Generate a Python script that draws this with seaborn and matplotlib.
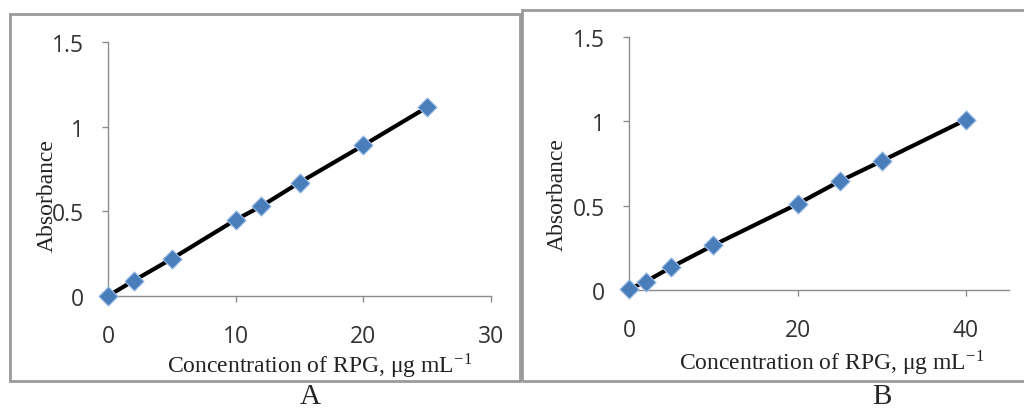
import numpy as np
import pandas as pd
import seaborn as sns
import matplotlib.pyplot as plt
from matplotlib.patches import Rectangle

# calibration data
conc_a = [0, 2, 5, 10, 12, 15, 20, 25]
abs_a = [0.0, 0.09, 0.22, 0.45, 0.53, 0.67, 0.89, 1.115]

conc_b = [0, 2, 5, 10, 20, 25, 30, 40]
abs_b = [0.005, 0.05, 0.135, 0.265, 0.51, 0.645, 0.765, 1.01]

yticks = [0, 0.5, 1, 1.5]
yticklabels = ['0', '0.5', '1', '1.5']
xticks_a = [0, 10, 20, 30]
xticks_b = [0, 20, 40]
panel_names = ['A', 'B']

sns.set_style('white')
plt.rcParams['mathtext.fontset'] = 'stix'

blue = '#4a7ebb'
grey = '#8c8c8c'
xlabel = 'Concentration of RPG, μg mL$^{\\mathregular{-1}}$'

fig = plt.figure(figsize=(10.24, 4.1), dpi=100)

# panel frames
fig.add_artist(Rectangle((10 / 1024, 1 - 382 / 410), 510 / 1024, 367 / 410,
                         fill=False, edgecolor='#9a9a9a', lw=2, transform=fig.transFigure))
fig.add_artist(Rectangle((522 / 1024, 1 - 382 / 410), 520 / 1024, 371 / 410,
                         fill=False, edgecolor='#9a9a9a', lw=2, transform=fig.transFigure))

ax_a = fig.add_axes([108 / 1024, 1 - 297 / 410, 383 / 1024, 254 / 410])
ax_b = fig.add_axes([629 / 1024, 1 - 291 / 410, 380 / 1024, 253 / 410])

panels = [
    (ax_a, conc_a, abs_a, (0, 30), xticks_a, (0.553, -0.275), (-0.159, 0.40)),
    (ax_b, conc_b, abs_b, (0, 45.1), xticks_b, (0.532, -0.285), (-0.189, 0.383)),
]

for ax, x, y, xlim, xt, xlab_pos, ylab_pos in panels:
    df = pd.DataFrame({'conc': x, 'abs': y})
    sns.lineplot(data=df, x='conc', y='abs', color='black', lw=3, ax=ax, zorder=2)
    sns.scatterplot(data=df, x='conc', y='abs', marker='D', s=95, color=blue,
                    edgecolor='#9fc0ea', linewidth=0.8, ax=ax, zorder=3, clip_on=False)
    ax.set_xlim(*xlim)
    ax.set_ylim(0, 1.5)
    ax.set_xticks(xt)
    ax.set_xticklabels([str(v) for v in xt])
    ax.set_yticks(yticks)
    ax.set_yticklabels(yticklabels)
    for s in ['top', 'right']:
        ax.spines[s].set_visible(False)
    for s in ['left', 'bottom']:
        ax.spines[s].set_color(grey)
        ax.spines[s].set_linewidth(1)
    ax.tick_params(axis='both', which='major', direction='out', length=4.5, width=1,
                   color=grey, labelsize=16.5, labelcolor='#333333')
    ax.tick_params(axis='y', pad=13, left=True)
    ax.tick_params(axis='x', pad=16, bottom=True)
    for lbl in ax.get_xticklabels() + ax.get_yticklabels():
        lbl.set_family('Open Sans')
    ax.set_xlabel(xlabel, family='Liberation Serif', fontsize=17, color='#222222')
    ax.set_ylabel('Absorbance', family='Liberation Serif', fontsize=17, color='#222222')
    ax.xaxis.set_label_coords(*xlab_pos)
    ax.xaxis.label.set_va('center')
    ax.yaxis.set_label_coords(*ylab_pos)
    ax.yaxis.label.set_va('center')
    ax.set_facecolor('none')

fig.text(310 / 1024, 1 - 397 / 410, panel_names[0], family='Liberation Serif',
         fontsize=21, ha='center', va='center')
fig.text(882 / 1024, 1 - 397 / 410, panel_names[1], family='Liberation Serif',
         fontsize=21, ha='center', va='center')

fig.savefig('out.png', dpi=100)
